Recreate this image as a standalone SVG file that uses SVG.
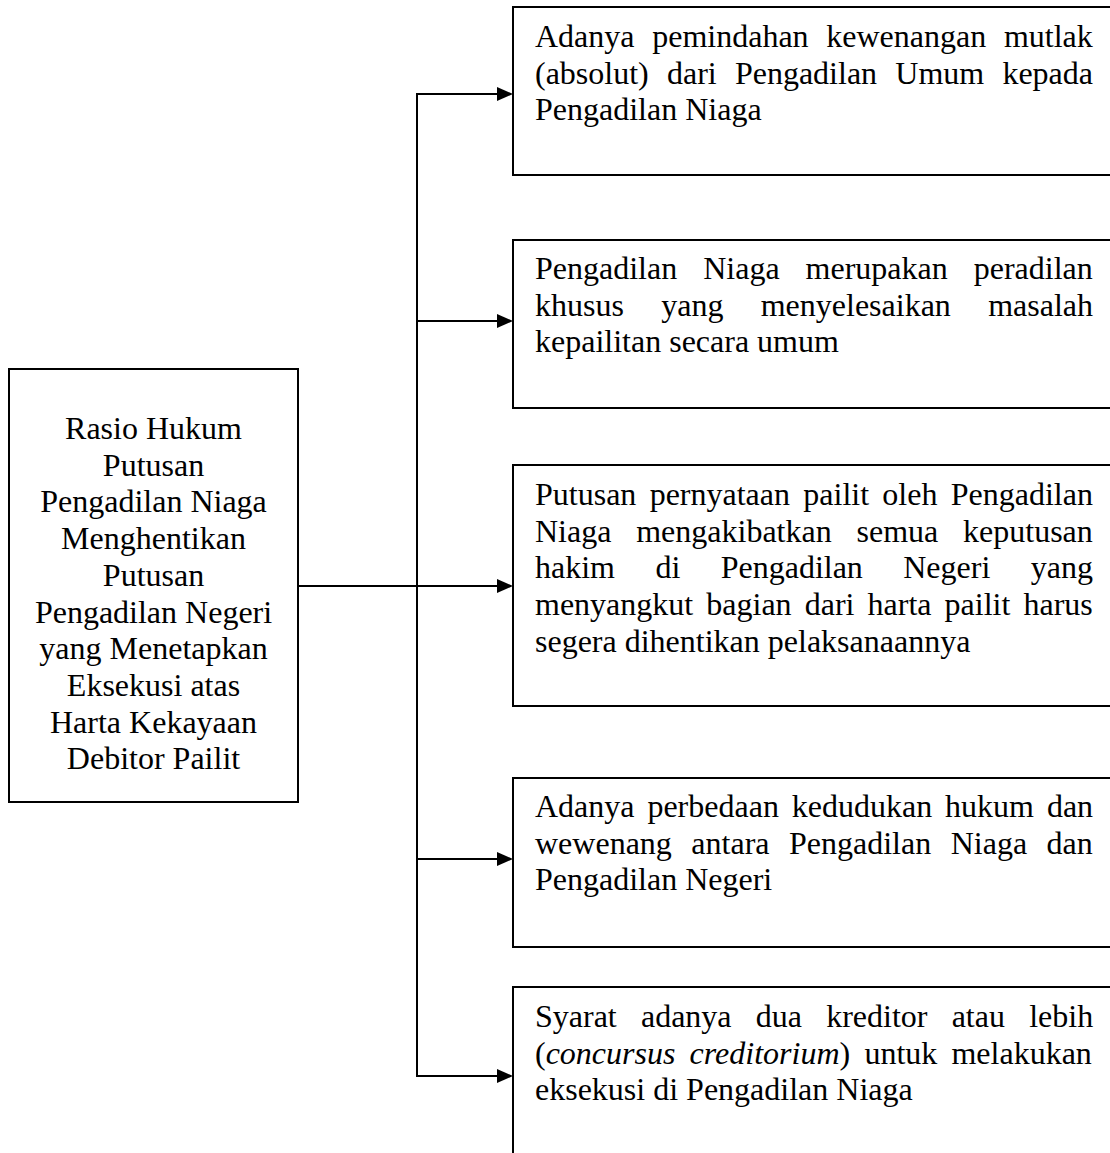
<svg xmlns="http://www.w3.org/2000/svg" width="1110" height="1153" viewBox="0 0 1110 1153">
<style>
.box{fill:#fff;stroke:#000;stroke-width:2}
.t{font-family:"Liberation Serif","Times New Roman",serif;font-size:32px;fill:#000}
.c{text-anchor:middle}
.ln{stroke:#000;stroke-width:2;fill:none}
.ah{fill:#000}
</style>
<rect width="1110" height="1153" fill="#fff"/>
<g id="connectors">
<line class="ln" x1="298" y1="586" x2="499" y2="586"/>
<line class="ln" x1="417" y1="94" x2="417" y2="1076"/>
<line class="ln" x1="416" y1="94" x2="499" y2="94"/>
<line class="ln" x1="416" y1="321" x2="499" y2="321"/>
<line class="ln" x1="416" y1="859" x2="499" y2="859"/>
<line class="ln" x1="416" y1="1076" x2="499" y2="1076"/>
<polygon class="ah" points="513,94 497,87 497,101"/>
<polygon class="ah" points="513,321 497,314 497,328"/>
<polygon class="ah" points="513,586 497,579 497,593"/>
<polygon class="ah" points="513,859 497,852 497,866"/>
<polygon class="ah" points="513,1076 497,1069 497,1083"/>
</g>
<g id="main">
<rect class="box" x="9" y="369" width="289" height="433"/>
<text class="t c" x="153.5" y="439">Rasio Hukum</text>
<text class="t c" x="153.5" y="475.7">Putusan</text>
<text class="t c" x="153.5" y="512.4">Pengadilan Niaga</text>
<text class="t c" x="153.5" y="549.1">Menghentikan</text>
<text class="t c" x="153.5" y="585.8">Putusan</text>
<text class="t c" x="153.5" y="622.5">Pengadilan Negeri</text>
<text class="t c" x="153.5" y="659.2">yang Menetapkan</text>
<text class="t c" x="153.5" y="695.9">Eksekusi atas</text>
<text class="t c" x="153.5" y="732.6">Harta Kekayaan</text>
<text class="t c" x="153.5" y="769.3">Debitor Pailit</text>
</g>
<g id="box1">
<rect class="box" x="513" y="7" width="600" height="168"/>
<text class="t" x="535" y="47" word-spacing="9.7">Adanya pemindahan kewenangan mutlak</text>
<text class="t" x="535" y="83.7" word-spacing="10.2">(absolut) dari Pengadilan Umum kepada</text>
<text class="t" x="535" y="120.4">Pengadilan Niaga</text>
</g>
<g id="box2">
<rect class="box" x="513" y="240" width="600" height="168"/>
<text class="t" x="535" y="279" word-spacing="18">Pengadilan Niaga merupakan peradilan</text>
<text class="t" x="535" y="315.7" word-spacing="29.3">khusus yang menyelesaikan masalah</text>
<text class="t" x="535" y="352.4">kepailitan secara umum</text>
</g>
<g id="box3">
<rect class="box" x="513" y="465" width="600" height="241"/>
<text class="t" x="535" y="505" word-spacing="5.3">Putusan pernyataan pailit oleh Pengadilan</text>
<text class="t" x="535" y="541.7" word-spacing="16.8">Niaga mengakibatkan semua keputusan</text>
<text class="t" x="535" y="578.4" word-spacing="32.4">hakim di Pengadilan Negeri yang</text>
<text class="t" x="535" y="615.1" word-spacing="5.1">menyangkut bagian dari harta pailit harus</text>
<text class="t" x="535" y="651.8">segera dihentikan pelaksanaannya</text>
</g>
<g id="box4">
<rect class="box" x="513" y="778" width="600" height="169"/>
<text class="t" x="535" y="817" word-spacing="4.9">Adanya perbedaan kedudukan hukum dan</text>
<text class="t" x="535" y="853.7" word-spacing="11.5">wewenang antara Pengadilan Niaga dan</text>
<text class="t" x="535" y="890.4">Pengadilan Negeri</text>
</g>
<g id="box5">
<rect class="box" x="513" y="987" width="600" height="200"/>
<text class="t" x="535" y="1027" word-spacing="16.2">Syarat adanya dua kreditor atau lebih</text>
<text class="t" x="535" y="1063.7" word-spacing="6.2">(<tspan font-style="italic">concursus creditorium</tspan>) untuk melakukan</text>
<text class="t" x="535" y="1100.4">eksekusi di Pengadilan Niaga</text>
</g>
</svg>
